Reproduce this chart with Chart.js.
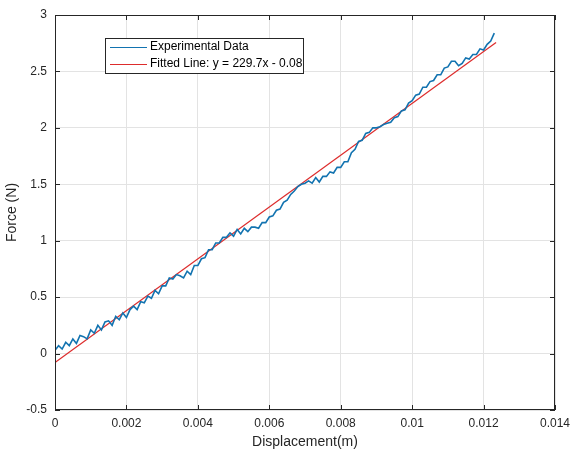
<!DOCTYPE html>
<html>
<head>
<meta charset="UTF-8">
<script src="https://cdn.jsdelivr.net/npm/chart.js@4/dist/chart.umd.min.js"></script>
<style>
  html, body { margin: 0; padding: 0; background: #fff; }
  #wrap { width: 570px; height: 452px; }
</style>
</head>
<body>
<div id="wrap"><canvas id="c" width="570" height="452"></canvas></div>
<script>
// sample spacing of the measured displacement (m)
const stepX = 0.0001;

const force = [
  0.03, 0.07, 0.04, 0.10, 0.07, 0.13, 0.09, 0.16, 0.15, 0.13,
  0.21, 0.18, 0.25, 0.21, 0.28, 0.29, 0.25, 0.33, 0.30, 0.36,
  0.32, 0.39, 0.42, 0.39, 0.46, 0.45, 0.51, 0.49, 0.56, 0.53,
  0.60, 0.60, 0.67, 0.66, 0.70, 0.69, 0.67, 0.73, 0.70, 0.78,
  0.78, 0.84, 0.85, 0.92, 0.92, 0.98, 0.98, 1.03, 1.03, 1.07,
  1.04, 1.10, 1.06, 1.11, 1.08, 1.12, 1.12, 1.11, 1.16, 1.16,
  1.21, 1.22, 1.27, 1.28, 1.34, 1.36, 1.41, 1.44, 1.48, 1.50,
  1.51, 1.53, 1.51, 1.56, 1.52, 1.57, 1.57, 1.61, 1.60, 1.65,
  1.65, 1.70, 1.70, 1.78, 1.81, 1.88, 1.89, 1.95, 1.96, 2.00,
  2.00, 2.01, 2.03, 2.04, 2.05, 2.09, 2.10, 2.15, 2.16, 2.22,
  2.24, 2.29, 2.30, 2.36, 2.36, 2.41, 2.42, 2.47, 2.47, 2.53,
  2.54, 2.59, 2.59, 2.55, 2.57, 2.62, 2.61, 2.65, 2.65, 2.70,
  2.69, 2.74, 2.77, 2.84
];

// fitted line end points
const fitX = [0, 0.01235];
const fitY = [-0.08, 2.757];

const labels = ['Experimental Data', 'Fitted Line: y = 229.7x - 0.08'];
const colors = ['#1273b0', '#dd2c2c'];

const xTicks = [0, 0.002, 0.004, 0.006, 0.008, 0.01, 0.012, 0.014];
const yTicks = [-0.5, 0, 0.5, 1, 1.5, 2, 2.5, 3];

const expPoints = force.map((f, i) => ({ x: i * stepX, y: f }));
const fitPoints = fitX.map((x, i) => ({ x: x, y: fitY[i] }));

const font = "'Liberation Sans', Arial, sans-serif";
const ink = '#262626';

// box, inward ticks and legend, MATLAB style
const boxPlugin = {
  id: 'box',
  afterDatasetsDraw(chart) {
    const { ctx, chartArea: a, scales } = chart;
    ctx.save();
    ctx.strokeStyle = ink;
    ctx.lineWidth = 1;
    ctx.strokeRect(a.left + 0.5, a.top + 0.5, a.right - a.left - 1, a.bottom - a.top - 1);
    ctx.beginPath();
    xTicks.forEach(v => {
      const px = Math.round(scales.x.getPixelForValue(v)) + 0.5;
      ctx.moveTo(px, a.bottom); ctx.lineTo(px, a.bottom - 5);
      ctx.moveTo(px, a.top); ctx.lineTo(px, a.top + 5);
    });
    yTicks.forEach(v => {
      const py = Math.round(scales.y.getPixelForValue(v)) + 0.5;
      ctx.moveTo(a.left, py); ctx.lineTo(a.left + 5, py);
      ctx.moveTo(a.right, py); ctx.lineTo(a.right - 5, py);
    });
    ctx.stroke();

    // legend
    const lx = 105, ly = 38, lw = 198, lh = 35;
    ctx.fillStyle = '#fff';
    ctx.fillRect(lx, ly, lw, lh);
    ctx.strokeStyle = ink;
    ctx.strokeRect(lx + 0.5, ly + 0.5, lw, lh);
    ctx.font = '12px ' + font;
    ctx.textBaseline = 'middle';
    ctx.textAlign = 'left';
    labels.forEach((t, i) => {
      const y = ly + 9 + i * 17;
      ctx.strokeStyle = colors[i];
      ctx.beginPath();
      ctx.moveTo(lx + 5, y + 0.5); ctx.lineTo(lx + 42, y + 0.5);
      ctx.stroke();
      ctx.fillStyle = '#000';
      ctx.fillText(t, lx + 45, y);
    });
    ctx.restore();
  }
};

new Chart(document.getElementById('c'), {
  type: 'line',
  data: {
    datasets: [
      { label: labels[0], data: expPoints, borderColor: colors[0], borderWidth: 1.6, pointRadius: 0, tension: 0 },
      { label: labels[1], data: fitPoints, borderColor: colors[1], borderWidth: 1.2, pointRadius: 0, tension: 0 }
    ]
  },
  options: {
    responsive: false,
    animation: false,
    layout: { padding: { top: 15, right: 15, left: 4, bottom: 1 } },
    plugins: { legend: { display: false }, tooltip: { enabled: false } },
    scales: {
      x: {
        type: 'linear', min: 0, max: 0.014,
        afterBuildTicks: s => { s.ticks = xTicks.map(v => ({ value: v })); },
        afterFit: s => { s.height = 41; s.paddingRight = 0; s.paddingLeft = 0; },
        grid: { color: '#e3e3e3', drawTicks: false },
        border: { display: false },
        ticks: {
          padding: 6, color: ink, font: { family: font, size: 12 },
          callback: v => String(Number(v.toFixed(3)))
        },
        title: { display: true, text: 'Displacement(m)', color: ink, font: { family: font, size: 14 }, padding: { top: 0, bottom: 0 } }
      },
      y: {
        min: -0.5, max: 3,
        afterBuildTicks: s => { s.ticks = yTicks.map(v => ({ value: v })); },
        afterFit: s => { s.width = 51; s.paddingTop = 0; s.paddingBottom = 0; },
        grid: { color: '#e3e3e3', drawTicks: false },
        border: { display: false },
        ticks: {
          padding: 8, color: ink, font: { family: font, size: 12 },
          callback: v => String(v)
        },
        title: { display: true, text: 'Force (N)', color: ink, font: { family: font, size: 14 }, padding: { top: 0, bottom: 0 } }
      }
    }
  },
  plugins: [boxPlugin]
});
</script>
</body>
</html>
